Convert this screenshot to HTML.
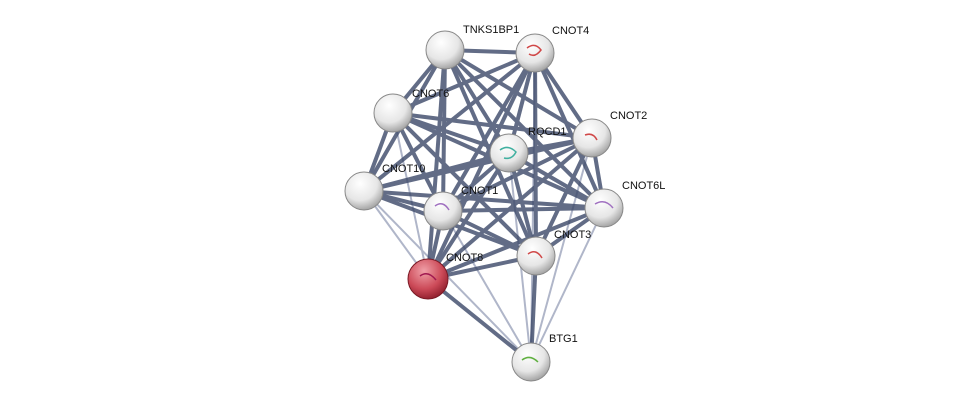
<!DOCTYPE html>
<html><head><meta charset="utf-8"><style>
html,body{margin:0;padding:0;background:#fff;}
svg{display:block}
text{font-family:"Liberation Sans",sans-serif;font-size:11px;fill:#111}
</style></head><body>
<svg width="975" height="405" viewBox="0 0 975 405" xmlns="http://www.w3.org/2000/svg">
<defs>
<radialGradient id="g" cx="0.4" cy="0.3" r="0.75">
<stop offset="0" stop-color="#ffffff"/><stop offset="0.6" stop-color="#e6e6e6"/><stop offset="1" stop-color="#9a9a9a"/>
</radialGradient>
<radialGradient id="r" cx="0.4" cy="0.3" r="0.75">
<stop offset="0" stop-color="#f0a0a8"/><stop offset="0.6" stop-color="#cc4a58"/><stop offset="1" stop-color="#8a1a28"/>
</radialGradient>
</defs>
<g stroke="#a8afc4" stroke-width="2" opacity="0.9">
<line x1="531" y1="362" x2="364" y2="191"/>
<line x1="531" y1="362" x2="604" y2="208"/>
<line x1="531" y1="362" x2="592" y2="138"/>
<line x1="531" y1="362" x2="443" y2="211"/>
<line x1="531" y1="362" x2="509" y2="153"/>
<line x1="531" y1="362" x2="535" y2="53"/>
<line x1="428" y1="279" x2="393" y2="113"/>
<line x1="364" y1="191" x2="428" y2="279"/>
</g>
<g stroke="#3b4868" stroke-width="4" opacity="0.8">
<line x1="445" y1="50" x2="535" y2="53"/>
<line x1="445" y1="50" x2="393" y2="113"/>
<line x1="445" y1="50" x2="592" y2="138"/>
<line x1="445" y1="50" x2="509" y2="153"/>
<line x1="445" y1="50" x2="364" y2="191"/>
<line x1="445" y1="50" x2="443" y2="211"/>
<line x1="445" y1="50" x2="604" y2="208"/>
<line x1="445" y1="50" x2="536" y2="256"/>
<line x1="445" y1="50" x2="428" y2="279"/>
<line x1="535" y1="53" x2="393" y2="113"/>
<line x1="535" y1="53" x2="592" y2="138"/>
<line x1="535" y1="53" x2="509" y2="153"/>
<line x1="535" y1="53" x2="364" y2="191"/>
<line x1="535" y1="53" x2="443" y2="211"/>
<line x1="535" y1="53" x2="604" y2="208"/>
<line x1="535" y1="53" x2="536" y2="256"/>
<line x1="535" y1="53" x2="428" y2="279"/>
<line x1="393" y1="113" x2="592" y2="138"/>
<line x1="393" y1="113" x2="509" y2="153"/>
<line x1="393" y1="113" x2="364" y2="191"/>
<line x1="393" y1="113" x2="443" y2="211"/>
<line x1="393" y1="113" x2="604" y2="208"/>
<line x1="393" y1="113" x2="536" y2="256"/>
<line x1="592" y1="138" x2="509" y2="153"/>
<line x1="592" y1="138" x2="364" y2="191"/>
<line x1="592" y1="138" x2="443" y2="211"/>
<line x1="592" y1="138" x2="604" y2="208"/>
<line x1="592" y1="138" x2="536" y2="256"/>
<line x1="592" y1="138" x2="428" y2="279"/>
<line x1="509" y1="153" x2="364" y2="191"/>
<line x1="509" y1="153" x2="443" y2="211"/>
<line x1="509" y1="153" x2="604" y2="208"/>
<line x1="509" y1="153" x2="536" y2="256"/>
<line x1="509" y1="153" x2="428" y2="279"/>
<line x1="364" y1="191" x2="443" y2="211"/>
<line x1="364" y1="191" x2="604" y2="208"/>
<line x1="364" y1="191" x2="536" y2="256"/>
<line x1="443" y1="211" x2="604" y2="208"/>
<line x1="443" y1="211" x2="536" y2="256"/>
<line x1="443" y1="211" x2="428" y2="279"/>
<line x1="604" y1="208" x2="536" y2="256"/>
<line x1="604" y1="208" x2="428" y2="279"/>
<line x1="536" y1="256" x2="428" y2="279"/>
<line x1="531" y1="362" x2="428" y2="279"/>
<line x1="531" y1="362" x2="536" y2="256"/>
</g>
<g stroke="#888" stroke-width="1">
<circle cx="445" cy="50" r="19" fill="url(#g)"/>
<circle cx="535" cy="53" r="19" fill="url(#g)"/>
<circle cx="393" cy="113" r="19" fill="url(#g)"/>
<circle cx="592" cy="138" r="19" fill="url(#g)"/>
<circle cx="509" cy="153" r="19" fill="url(#g)"/>
<circle cx="364" cy="191" r="19" fill="url(#g)"/>
<circle cx="443" cy="211" r="19" fill="url(#g)"/>
<circle cx="604" cy="208" r="19" fill="url(#g)"/>
<circle cx="536" cy="256" r="19" fill="url(#g)"/>
<circle cx="428" cy="279" r="20" fill="url(#r)" stroke="#7a1a25"/>
<circle cx="531" cy="362" r="19" fill="url(#g)"/>
</g>
<g fill="none" stroke-width="1.5">
<path d="M527 48 q8 -6 14 2 q-6 8 -12 4" stroke="#d04848"/>
<path d="M585 135 q8 -3 12 5" stroke="#d04848"/>
<path d="M500 150 q8 -6 16 2 q-4 8 -12 6" stroke="#40b0a0"/>
<path d="M435 206 q8 -6 14 4" stroke="#a070c0"/>
<path d="M595 204 q10 -6 18 4" stroke="#a070c0"/>
<path d="M528 254 q8 -6 14 4" stroke="#d04848"/>
<path d="M420 276 q8 -6 16 4" stroke="#a01850"/>
<path d="M522 360 q8 -6 16 2" stroke="#60b040"/>
</g>
<text x="463" y="33">TNKS1BP1</text>
<text x="552" y="34">CNOT4</text>
<text x="412" y="97">CNOT6</text>
<text x="610" y="119">CNOT2</text>
<text x="528" y="135">RQCD1</text>
<text x="382" y="172">CNOT10</text>
<text x="461" y="194">CNOT1</text>
<text x="622" y="189">CNOT6L</text>
<text x="554" y="238">CNOT3</text>
<text x="446" y="261">CNOT8</text>
<text x="549" y="342">BTG1</text>
</svg>
</body></html>
